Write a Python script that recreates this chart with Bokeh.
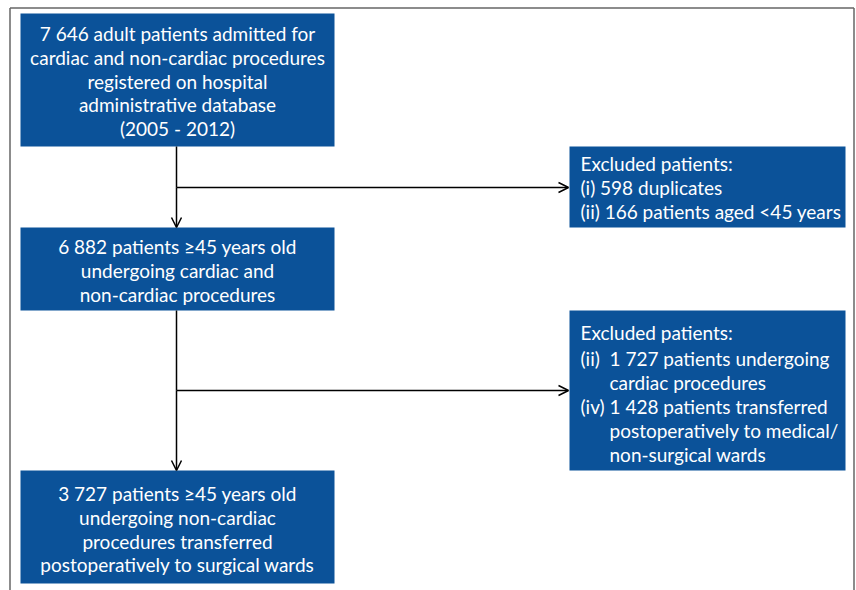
from bokeh.plotting import figure
from bokeh.models import Range1d, Arrow, OpenHead, ColumnDataSource
from bokeh.core.properties import value
from bokeh.embed import file_html
from bokeh.resources import INLINE

# ---- content ----
box1_lines = ["7 646 adult patients admitted for",
              "cardiac and non-cardiac procedures",
              "registered on hospital",
              "administrative database",
              "(2005 - 2012)"]
box2_lines = ["Excluded patients:",
              "(i) 598 duplicates",
              "(ii) 166 patients aged <45 years"]
box3_lines = ["6 882 patients \u226545 years old",
              "undergoing cardiac and",
              "non-cardiac procedures"]
box4_head = "Excluded patients:"
box4_labels = ["(ii)", "", "(iv)", "", ""]
box4_text = ["1 727 patients undergoing",
             "cardiac procedures",
             "1 428 patients transferred",
             "postoperatively to medical/",
             "non-surgical wards"]
box5_lines = ["3 727 patients \u226545 years old",
              "undergoing non-cardiac",
              "procedures transferred",
              "postoperatively to surgical wards"]

# ---- layout (page pixel coordinates) ----
BLUE = "#0b5299"
FONT = "Lato"
FS = "19px"
W, H = 856, 590
p = figure(width=W, height=H, output_backend="svg", toolbar_location=None,
           x_range=Range1d(0, W), y_range=Range1d(H, 0),
           x_axis_location=None, y_axis_location=None, min_border=0)
p.grid.visible = False
p.outline_line_color = None
p.background_fill_color = "white"

# frame
FC = "#666666"
p.line([9.5, 9.5], [590, 7.5], line_color=FC, line_width=1.5)
p.line([9.5, 853.5], [7.5, 7.5], line_color=FC, line_width=1.5)
p.line([853.5, 853.5], [7.5, 590], line_color=FC, line_width=1.5)

boxes = dict(left=[20, 569, 20, 569, 20], right=[334, 845, 334, 845, 334],
             top=[13, 146, 227, 310, 470], bottom=[146, 227, 310, 470, 583])
p.quad(source=ColumnDataSource(boxes), left="left", right="right", top="top",
       bottom="bottom", fill_color=BLUE, line_color=None)

# connectors
LC = "black"
p.line([176, 176], [146, 187], line_color=LC, line_width=1.5)
p.add_layout(Arrow(end=OpenHead(size=10, line_width=1.5, line_color=LC), x_start=176, y_start=187,
                   x_end=176, y_end=227, line_width=1.5, line_color=LC))
p.add_layout(Arrow(end=OpenHead(size=10, line_width=1.5, line_color=LC), x_start=176, y_start=187,
                   x_end=568, y_end=187, line_width=1.5, line_color=LC))
p.line([176, 176], [310, 390], line_color=LC, line_width=1.5)
p.add_layout(Arrow(end=OpenHead(size=10, line_width=1.5, line_color=LC), x_start=176, y_start=390,
                   x_end=176, y_end=470, line_width=1.5, line_color=LC))
p.add_layout(Arrow(end=OpenHead(size=10, line_width=1.5, line_color=LC), x_start=176, y_start=390,
                   x_end=568, y_end=390, line_width=1.5, line_color=LC))

def put(xs, ys, texts, align):
    p.text(x=xs, y=ys, text=texts, text_align=align, text_baseline="middle",
           text_color="white", text_font=value(FONT), text_font_size=FS)

STEP = 23.8
put([177] * len(box1_lines), [33 + i * STEP for i in range(len(box1_lines))], box1_lines, "center")
put([580] * len(box2_lines), [163 + i * 24 for i in range(len(box2_lines))], box2_lines, "left")
put([177] * len(box3_lines), [246 + i * STEP for i in range(len(box3_lines))], box3_lines, "center")
put([580], [332], [box4_head], "left")
y4 = [358 + i * 24 for i in range(len(box4_text))]
put([580] * len(box4_labels), y4, box4_labels, "left")
put([609] * len(box4_text), y4, box4_text, "left")
put([177] * len(box5_lines), [493 + i * STEP for i in range(len(box5_lines))], box5_lines, "center")

open("out.html", "w").write(file_html(p, INLINE))
